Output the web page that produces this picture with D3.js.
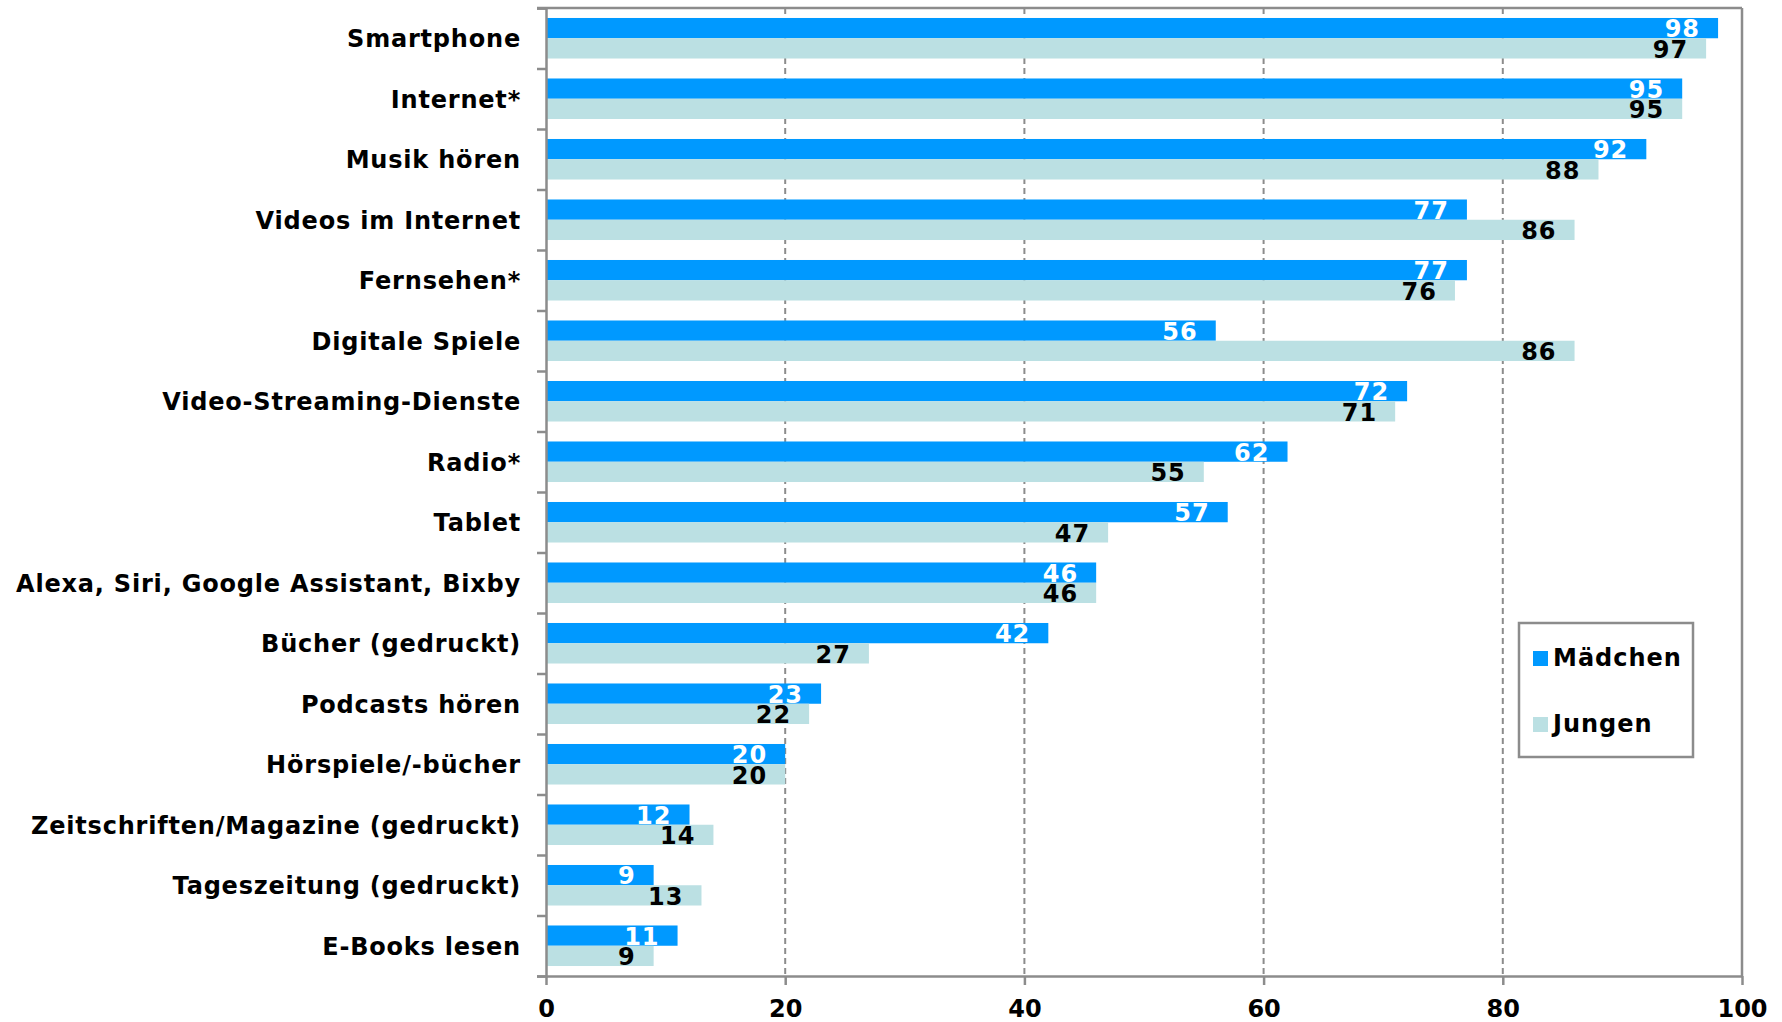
<!DOCTYPE html>
<html><head><meta charset="utf-8">
<script src="https://cdn.jsdelivr.net/npm/d3@7"></script>
<style>
html,body{margin:0;padding:0;background:#fff;}
text{font-family:"DejaVu Sans",Verdana,sans-serif;font-weight:bold;}
</style></head>
<body>
<svg id="chart" width="1782" height="1022"></svg>
<script>
const categories = ["Smartphone","Internet*","Musik hören","Videos im Internet","Fernsehen*","Digitale Spiele","Video-Streaming-Dienste","Radio*","Tablet","Alexa, Siri, Google Assistant, Bixby","Bücher (gedruckt)","Podcasts hören","Hörspiele/-bücher","Zeitschriften/Magazine (gedruckt)","Tageszeitung (gedruckt)","E-Books lesen"];
const seriesNames = ["Mädchen","Jungen"];
const maedchen = [98,95,92,77,77,56,72,62,57,46,42,23,20,12,9,11];
const jungen = [97,95,88,86,76,86,71,55,47,46,27,22,20,14,13,9];
const xTicks = [0,20,40,60,80,100];

const colors = {"Mädchen":"#0099FF","Jungen":"#BBE0E3"};
const labelColors = {"Mädchen":"#FFFFFF","Jungen":"#000000"};
const L=546, R=1742, T=8, B=976;
const svg = d3.select("#chart");

const x = d3.scaleLinear().domain([0,100]).range([L,R]);
const y = d3.scaleBand().domain(categories).range([T,B]).paddingInner(0.33).paddingOuter(0.165);
const ySub = d3.scaleBand().domain(seriesNames).range([0,y.bandwidth()]);
const yIdx = d3.scaleLinear().domain([0,categories.length]).range([T,B]);

// gridlines
svg.append("g").selectAll("line").data(xTicks.filter(t=>t>0&&t<100)).join("line")
  .attr("x1",d=>x(d)).attr("x2",d=>x(d)).attr("y1",T).attr("y2",B)
  .attr("stroke","#8c8c8c").attr("stroke-width",2).attr("stroke-dasharray","6,4");

// plot border top & right
svg.append("line").attr("x1",L-9).attr("x2",R).attr("y1",T).attr("y2",T).attr("stroke","#8c8c8c").attr("stroke-width",2.5);
svg.append("line").attr("x1",R).attr("x2",R).attr("y1",T).attr("y2",B).attr("stroke","#8c8c8c").attr("stroke-width",2.5);

const data = categories.map((c,i)=>({cat:c, values:[{s:"Mädchen",v:maedchen[i]},{s:"Jungen",v:jungen[i]}]}));

const groups = svg.append("g").selectAll("g").data(data).join("g")
  .attr("transform",d=>`translate(0,${y(d.cat)})`);
groups.selectAll("rect").data(d=>d.values).join("rect")
  .attr("x",x(0)).attr("y",d=>ySub(d.s)).attr("width",d=>x(d.v)-x(0)).attr("height",ySub.bandwidth())
  .attr("fill",d=>colors[d.s]);
groups.selectAll("text").data(d=>d.values).join("text")
  .attr("x",d=>x(d.v)-18).attr("y",d=>ySub(d.s)+ySub.bandwidth()-1)
  .attr("text-anchor","end").attr("font-size",24).attr("letter-spacing",1).attr("fill",d=>labelColors[d.s])
  .text(d=>d.v);

// y axis (category separators)
const yAxis = svg.append("g").attr("transform",`translate(${L},0)`)
  .call(d3.axisLeft(yIdx).tickValues(d3.range(0,categories.length+1)).tickSize(9).tickFormat(""));
yAxis.select(".domain").attr("stroke","#8c8c8c").attr("stroke-width",2.5);
yAxis.selectAll(".tick line").attr("stroke","#8c8c8c").attr("stroke-width",2.5);

// category labels
svg.append("g").selectAll("text").data(categories).join("text")
  .attr("x",L-25).attr("y",d=>y(d)+y.bandwidth()/2+9)
  .attr("text-anchor","end").attr("font-size",24).attr("letter-spacing",0.8).attr("fill","#000").text(d=>d);

// x axis
const xAxis = svg.append("g").attr("transform",`translate(0,${B})`)
  .call(d3.axisBottom(x).tickValues(xTicks).tickSize(9).tickPadding(15).tickSizeOuter(0));
xAxis.select(".domain").attr("stroke","#8c8c8c").attr("stroke-width",2.5);
xAxis.selectAll(".tick line").attr("stroke","#8c8c8c").attr("stroke-width",2.5);
xAxis.selectAll(".tick text").attr("font-size",24).attr("fill","#000")
  .attr("font-family","DejaVu Sans, Verdana, sans-serif").attr("font-weight","bold");

// legend
const lg = svg.append("g");
lg.append("rect").attr("x",1519).attr("y",623).attr("width",174).attr("height",134)
  .attr("fill","#fff").attr("stroke","#8c8c8c").attr("stroke-width",2.5);
const li = lg.selectAll("g").data(seriesNames).join("g")
  .attr("transform",(d,i)=>`translate(1533,${651+i*66})`);
li.append("rect").attr("width",15).attr("height",15).attr("fill",d=>colors[d]);
li.append("text").attr("x",20).attr("y",15).attr("font-size",24).attr("letter-spacing",1).attr("fill","#000").text(d=>d);
</script>
</body></html>
